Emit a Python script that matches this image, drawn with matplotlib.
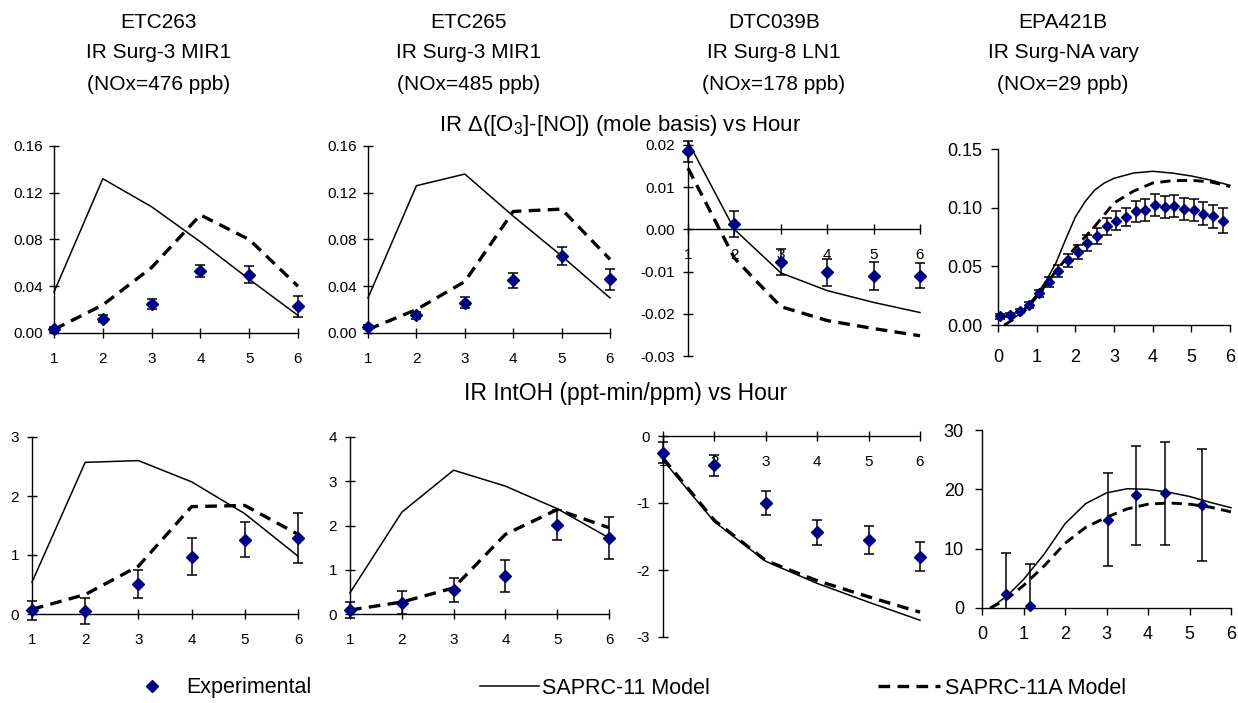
"""IR surrogate reactivity plots: experimental vs SAPRC-11 / SAPRC-11A model."""
import matplotlib

matplotlib.use("Agg")
from matplotlib import pyplot as plt
from matplotlib.lines import Line2D
from matplotlib.ticker import FormatStrFormatter

plt.rcParams["font.family"] = ["Liberation Sans", "DejaVu Sans"]
plt.rcParams["mathtext.fontset"] = "custom"
plt.rcParams["mathtext.rm"] = "Liberation Sans"
plt.rcParams["axes.unicode_minus"] = False

# ---- data -------------------------------------------------------------
hours = [1, 2, 3, 4, 5, 6]

# IR d(O3-NO), mole basis
etc263_do3_exp = [0.003, 0.012, 0.025, 0.053, 0.050, 0.023]
etc263_do3_err = [0.002, 0.003, 0.0045, 0.0055, 0.007, 0.009]
etc263_do3_s11 = [0.035, 0.132, 0.108, 0.078, 0.046, 0.015]
etc263_do3_s11a = [0.003, 0.024, 0.056, 0.101, 0.080, 0.040]

etc265_do3_exp = [0.005, 0.015, 0.026, 0.045, 0.066, 0.046]
etc265_do3_err = [0.002, 0.003, 0.005, 0.0065, 0.0075, 0.009]
etc265_do3_s11 = [0.030, 0.126, 0.136, 0.100, 0.066, 0.030]
etc265_do3_s11a = [0.003, 0.020, 0.044, 0.104, 0.106, 0.063]

dtc039b_do3_exp = [0.0185, 0.0013, -0.0077, -0.0102, -0.011, -0.011]
dtc039b_do3_err = [0.0025, 0.003, 0.003, 0.0033, 0.0033, 0.003]
dtc039b_do3_s11 = [0.0208, 0.0, -0.0103, -0.0145, -0.0173, -0.0197]
dtc039b_do3_s11a = [0.0145, -0.0068, -0.0183, -0.0216, -0.0235, -0.0252]

epa421b_t_exp = [0.06, 0.31, 0.56, 0.81, 1.06, 1.31, 1.56, 1.81, 2.06, 2.31, 2.56, 2.81,
                 3.06, 3.31, 3.56, 3.81, 4.06, 4.31, 4.56, 4.81, 5.06, 5.31, 5.56, 5.81]
epa421b_do3_exp = [0.0074, 0.0085, 0.012, 0.0168, 0.027, 0.0366, 0.046, 0.055, 0.062, 0.070,
                   0.076, 0.084, 0.089, 0.092, 0.097, 0.098, 0.1025, 0.1006, 0.1017, 0.099,
                   0.098, 0.095, 0.0926, 0.089]
epa421b_do3_err = [0.002, 0.002, 0.002, 0.0025, 0.003, 0.004, 0.005, 0.0055, 0.006, 0.007,
                   0.007, 0.0075, 0.008, 0.008, 0.009, 0.009, 0.0095, 0.0095, 0.0095, 0.0095,
                   0.0095, 0.0095, 0.010, 0.011]
epa421b_t_model = [0.17, 0.5, 0.75, 1.0, 1.25, 1.5, 1.75, 2.0, 2.25, 2.5, 2.75, 3.0,
                   3.5, 4.0, 4.5, 5.0, 5.5, 6.0]
epa421b_do3_s11 = [0.0, 0.008, 0.016, 0.026, 0.038, 0.053, 0.073, 0.092, 0.105, 0.115, 0.121,
                   0.125, 0.1295, 0.131, 0.1295, 0.127, 0.1235, 0.119]
epa421b_do3_s11a = [0.0, 0.007, 0.014, 0.024, 0.035, 0.046, 0.056, 0.066, 0.075, 0.084, 0.094,
                    0.104, 0.114, 0.121, 0.123, 0.1233, 0.122, 0.118]

# IR IntOH (ppt-min/ppm)
etc263_oh_exp = [0.06, 0.05, 0.51, 0.97, 1.26, 1.29]
etc263_oh_err = [0.16, 0.22, 0.24, 0.31, 0.30, 0.42]
etc263_oh_s11 = [0.54, 2.57, 2.60, 2.24, 1.70, 0.98]
etc263_oh_s11a = [0.08, 0.33, 0.81, 1.82, 1.84, 1.35]

etc265_oh_exp = [0.10, 0.25, 0.54, 0.86, 2.02, 1.72]
etc265_oh_err = [0.18, 0.26, 0.28, 0.36, 0.34, 0.48]
etc265_oh_s11 = [0.48, 2.30, 3.25, 2.89, 2.38, 1.72]
etc265_oh_s11a = [0.09, 0.27, 0.59, 1.80, 2.36, 1.95]

dtc039b_oh_exp = [-0.25, -0.44, -1.00, -1.44, -1.55, -1.80]
dtc039b_oh_err = [0.16, 0.16, 0.18, 0.19, 0.21, 0.22]
dtc039b_oh_s11 = [-0.36, -1.28, -1.87, -2.20, -2.48, -2.75]
dtc039b_oh_s11a = [-0.33, -1.26, -1.86, -2.16, -2.40, -2.63]

epa421b_t_oh_exp = [0.59, 1.15, 3.04, 3.72, 4.42, 5.29]
epa421b_oh_exp = [2.3, 0.4, 14.9, 19.0, 19.3, 17.4]
epa421b_oh_err = [6.9, 7.1, 7.9, 8.3, 8.7, 9.4]
epa421b_t_oh_model = [0.2, 0.6, 1.0, 1.5, 2.0, 2.5, 3.0, 3.5, 4.0, 4.5, 5.0, 5.5, 6.0]
epa421b_oh_s11 = [0.0, 2.0, 4.8, 9.1, 14.2, 17.6, 19.4, 20.1, 20.0, 19.5, 18.8, 17.8, 16.9]
epa421b_oh_s11a = [0.0, 1.5, 3.8, 7.1, 10.9, 13.6, 15.3, 16.7, 17.5, 17.7, 17.5, 17.0, 16.2]

run_names = ["ETC263", "ETC265", "DTC039B", "EPA421B"]
run_types = ["IR Surg-3 MIR1", "IR Surg-3 MIR1", "IR Surg-8 LN1", "IR Surg-NA vary"]
run_nox = ["(NOx=476 ppb)", "(NOx=485 ppb)", "(NOx=178 ppb)", "(NOx=29 ppb)"]

# ---- layout -----------------------------------------------------------
W, H = 1238, 703
fig = plt.figure(figsize=(W / 100, H / 100), dpi=100)

NAVY = "#000080"
DASH = (0, (3.5, 2.2))


def panel(x0, x1, ytop, ybot):
    return fig.add_axes([x0 / W, 1 - ybot / H, (x1 - x0) / W, (ybot - ytop) / H])


def draw(ax, tx, exp, err, tm, s11, s11a, xlim, ylim, yticks, yfmt,
         big=False, axis_at_zero=False, clip_err=False, xpad=10.5, ypad=4.5):
    ax.plot(tm, s11, color="black", lw=1.1, clip_on=False, zorder=2)
    ax.plot(tm, s11a, color="black", lw=2.1 if big else 2.4, ls=DASH, clip_on=False, zorder=2)
    ax.errorbar(tx, exp, yerr=err, fmt="none", ecolor="black", elinewidth=1.1,
                capsize=3.6, capthick=1.1, clip_on=clip_err, zorder=3)
    ax.plot(tx, exp, "D", color=NAVY, ms=5.6 if big else 6.4, mec=NAVY,
            clip_on=False, zorder=4)
    ax.set_xlim(*xlim)
    ax.set_ylim(*ylim)
    ax.set_xticks(range(int(xlim[0]), int(xlim[1]) + 1))
    ax.set_yticks(yticks)
    ax.yaxis.set_major_formatter(FormatStrFormatter(yfmt))
    for s in ("top", "right"):
        ax.spines[s].set_visible(False)
    for s in ("left", "bottom"):
        ax.spines[s].set_linewidth(1.0)
    if axis_at_zero:
        ax.spines["bottom"].set_position(("data", 0))
    if big:
        ax.tick_params(direction="out", length=5, width=1.0, labelsize=13)
    else:
        ax.tick_params(direction="inout", length=6.5, width=1.0, labelsize=11)
    ax.tick_params(axis="x", pad=xpad)
    ax.tick_params(axis="y", pad=ypad)
    ax.patch.set_visible(False)


# top row: IR d(O3-NO)
ax = panel(54, 298, 146, 333)
draw(ax, hours, etc263_do3_exp, etc263_do3_err, hours, etc263_do3_s11,
     etc263_do3_s11a, (1, 6), (0, 0.16), [0, 0.04, 0.08, 0.12, 0.16], "%.2f")

ax = panel(368, 610, 146, 333)
draw(ax, hours, etc265_do3_exp, etc265_do3_err, hours, etc265_do3_s11,
     etc265_do3_s11a, (1, 6), (0, 0.16), [0, 0.04, 0.08, 0.12, 0.16], "%.2f")

ax = panel(688, 920, 145, 356)
draw(ax, hours, dtc039b_do3_exp, dtc039b_do3_err, hours, dtc039b_do3_s11,
     dtc039b_do3_s11a, (1, 6), (-0.03, 0.02),
     [-0.03, -0.02, -0.01, 0, 0.01, 0.02], "%.2f", axis_at_zero=True, ypad=6)

ax = panel(998, 1230, 149, 325)
draw(ax, epa421b_t_exp, epa421b_do3_exp, epa421b_do3_err, epa421b_t_model,
     epa421b_do3_s11, epa421b_do3_s11a, (0, 6), (0, 0.15),
     [0, 0.05, 0.10, 0.15], "%.2f", big=True, xpad=12, ypad=6)

# bottom row: IR IntOH
ax = panel(32, 298, 437, 614)
draw(ax, hours, etc263_oh_exp, etc263_oh_err, hours, etc263_oh_s11,
     etc263_oh_s11a, (1, 6), (0, 3), [0, 1, 2, 3], "%d", ypad=6)

ax = panel(350, 609, 437, 614)
draw(ax, hours, etc265_oh_exp, etc265_oh_err, hours, etc265_oh_s11,
     etc265_oh_s11a, (1, 6), (0, 4), [0, 1, 2, 3, 4], "%d", ypad=6)

ax = panel(663, 920, 436, 637)
draw(ax, hours, dtc039b_oh_exp, dtc039b_oh_err, hours, dtc039b_oh_s11,
     dtc039b_oh_s11a, (1, 6), (-3, 0), [-3, -2, -1, 0], "%d", axis_at_zero=True, ypad=6)

ax = panel(982, 1231, 430, 608)
draw(ax, epa421b_t_oh_exp, epa421b_oh_exp, epa421b_oh_err, epa421b_t_oh_model,
     epa421b_oh_s11, epa421b_oh_s11a, (0, 6), (0, 30),
     [0, 10, 20, 30], "%d", big=True, clip_err=True, xpad=8, ypad=8)

# ---- text -------------------------------------------------------------
for cx, name, kind, nox in zip([159, 469, 774, 1063], run_names, run_types, run_nox):
    for y, s in zip([22, 53, 85], [name, kind, nox]):
        fig.text(cx / W, 1 - y / H, s, ha="center", va="center", fontsize=15)

fig.text(620 / W, 1 - 125 / H, r"IR $\Delta$([O$_\mathregular{3}$]-[NO]) (mole basis) vs Hour",
         ha="center", va="center", fontsize=16)
fig.text(626 / W, 1 - 393 / H, "IR IntOH (ppt-min/ppm) vs Hour",
         ha="center", va="center", fontsize=16.5)

# ---- legend -----------------------------------------------------------
h_exp = Line2D([], [], ls="none", marker="D", ms=6.4, color=NAVY)
h_s11 = Line2D([], [], color="black", lw=1.1)
h_s11a = Line2D([], [], color="black", lw=2.4, ls=DASH)
for h, lab, x, hl, pad in [(h_exp, "Experimental", 140, 1.1, 1.05),
                           (h_s11, "SAPRC-11 Model", 480, 2.75, 0.15),
                           (h_s11a, "SAPRC-11A Model", 878, 2.9, 0.2)]:
    fig.legend(handles=[h], labels=[lab], loc="center left",
               bbox_to_anchor=(x / W, 1 - 688 / H), frameon=False, fontsize=15.5,
               handlelength=hl, handletextpad=pad, borderpad=0, borderaxespad=0)

fig.savefig("out.png", dpi=100)
